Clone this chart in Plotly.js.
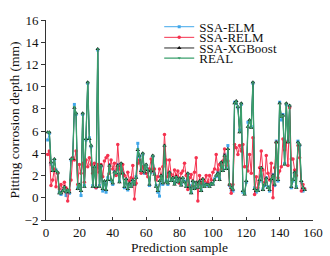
<!DOCTYPE html>
<html><head><meta charset="utf-8">
<script src="https://cdn.plot.ly/plotly-3.0.1.min.js"></script>
<style>html,body{margin:0;padding:0;background:#fff}#chart{width:330px;height:256px}</style>
</head><body><div id="chart"></div>
<script>
var seriesNames = ["SSA-ELM", "SSA-RELM", "SSA-XGBoost", "REAL"];
var xTickVals = [0, 20, 40, 60, 80, 100, 120, 140, 160];
var yTickVals = [-2, 0, 2, 4, 6, 8, 10, 12, 14, 16];

var real = [5.9,5.9,3.2,2.4,3.5,2.4,2.3,0.4,0.4,0.6,1.0,0.5,0.7,0.5,3.5,3.5,8.2,7.6,0.8,1.2,
0.6,7.6,1.0,5.3,10.4,5.3,4.7,1.0,2.8,1.0,13.4,1.0,2.9,0.8,1.5,0.7,1.6,2.9,1.6,1.3,
2.3,2.2,2.9,1.4,3.1,2.2,1.0,1.7,0.8,1.3,1.0,1.6,1.2,1.8,4.4,3.8,2.4,4.0,2.3,3.0,
2.5,1.2,2.4,3.8,2.1,1.0,0.6,1.5,2.0,1.3,4.7,1.4,1.3,2.3,1.5,1.8,1.2,1.9,1.4,1.75,
1.1,1.8,1.4,1.0,2.2,1.0,0.4,1.5,0.8,1.4,0.9,1.5,0.6,1.7,1.0,1.2,1.2,1.0,1.3,1.2,
1.6,2.0,2.2,1.6,3.2,2.4,3.8,2.6,4.4,1.2,0.9,0.75,8.5,8.7,8.2,5.9,8.5,0.6,0.3,1.5,
6.4,7.0,6.3,10.4,0.8,0.6,0.6,1.6,2.7,0.7,1.2,1.75,0.9,0.7,1.7,2.0,1.2,5.0,1.6,8.5,
7.3,7.4,3.0,8.5,5.0,8.3,1.0,1.6,2.3,0.9,5.0,4.8,1.5,0.9,0.7];

var elm = [5.2,5.8,3.0,2.6,3.4,2.5,2.2,0.5,0.3,0.7,0.9,0.2,0.6,0.4,3.4,3.6,8.4,7.5,0.9,1.0,
0.2,7.5,1.1,5.2,10.3,5.4,4.6,1.1,2.7,0.9,13.3,1.1,2.8,0.6,1.3,0.5,1.8,3.0,1.5,1.2,
2.4,2.1,3.0,1.5,3.0,2.3,0.9,1.6,0.7,1.2,1.1,1.5,1.3,1.9,4.9,3.7,2.5,3.9,2.2,2.9,
2.6,1.1,2.3,3.7,2.2,1.1,0.5,0.15,1.9,1.2,4.6,1.5,1.2,2.2,1.6,1.7,1.3,1.8,1.5,1.6,
1.2,1.7,1.5,1.1,2.1,1.1,0.5,1.4,0.9,1.3,1.0,1.4,0.7,1.6,1.1,1.3,1.1,1.1,1.2,1.3,
1.7,1.9,2.3,1.7,3.1,2.5,3.9,2.7,4.7,1.1,0.7,0.6,8.6,8.5,8.1,6.1,8.4,0.5,0.4,1.4,
6.8,6.9,6.4,10.3,0.9,0.5,0.7,1.5,2.6,0.8,1.1,1.8,1.0,0.6,1.6,2.1,1.1,5.1,1.5,8.6,
7.0,7.5,3.1,8.4,5.1,8.2,0.9,1.5,2.2,1.0,5.1,4.7,1.4,0.6,0.8];

var relm = [3.9,4.2,1.1,1.6,2.6,1.0,2.2,0.8,1.2,0.6,1.4,0.9,-0.3,0.7,1.6,3.6,3.4,4.2,1.2,3.0,
2.2,3.1,1.4,3.4,2.8,3.6,3.0,2.2,3.1,0.9,3.0,2.3,3.0,1.9,3.3,3.6,3.8,2.2,3.4,2.6,
3.1,2.0,4.8,2.6,2.2,3.0,2.0,1.6,2.3,1.5,1.8,2.9,-0.1,1.3,3.1,3.4,2.2,2.8,2.6,2.2,
1.9,2.6,3.5,2.4,2.6,1.6,1.9,2.6,1.8,2.8,5.7,3.4,1.9,3.4,2.1,1.8,2.5,2.0,2.4,1.3,
2.2,2.4,3.1,2.0,0.75,1.8,2.1,1.1,2.3,3.6,-0.3,2.0,1.3,1.7,1.5,2.0,1.4,2.0,1.6,2.3,
2.6,3.9,2.5,3.0,2.6,3.3,4.4,2.9,3.3,1.2,0.4,1.2,4.8,4.5,3.9,4.7,4.2,4.8,2.8,2.8,
2.4,3.9,2.2,5.4,0.3,1.9,0.9,2.7,4.2,2.5,1.4,3.8,2.2,1.6,3.1,0.0,2.7,5.0,1.8,2.4,
2.8,5.3,4.3,5.0,2.9,8.1,3.5,3.5,2.5,2.0,4.7,3.6,0.6,1.2,0.8];

var xgb = [5.9,5.9,3.2,2.4,3.5,2.4,2.3,0.4,0.4,0.6,1.0,0.5,0.7,0.5,3.5,3.5,8.1,7.6,0.8,1.2,
0.6,7.6,1.0,5.3,10.4,5.3,4.7,1.0,2.8,1.0,13.4,1.0,2.9,0.8,1.5,0.7,1.6,2.9,1.6,1.3,
2.3,2.2,2.9,1.4,3.1,2.2,1.0,1.7,0.8,1.3,1.0,1.6,1.2,1.8,4.3,3.8,2.4,4.0,2.3,3.0,
2.5,1.2,2.4,3.8,2.1,1.0,0.6,1.5,2.0,1.3,4.7,1.4,1.3,2.3,1.5,1.8,1.2,1.9,1.4,1.75,
1.1,1.8,1.4,1.0,2.2,1.0,0.4,1.5,0.8,1.4,0.9,1.5,0.6,1.7,1.0,1.2,1.2,1.0,1.3,1.2,
1.6,2.0,2.2,1.6,3.2,2.4,3.8,2.6,4.4,1.2,0.9,0.75,8.5,8.7,8.2,5.9,8.5,0.6,0.3,1.5,
6.4,7.0,6.3,10.4,0.8,0.6,0.6,1.6,2.7,0.7,1.2,1.75,0.9,0.7,1.7,2.0,1.2,5.0,1.6,8.5,
7.3,7.4,3.0,8.5,5.0,8.3,1.0,1.6,2.3,0.9,5.0,4.8,1.5,0.9,0.7];

var samples = real.map(function(_, i){ return i + 1; });

var FONT = "Liberation Serif, Times New Roman, serif";
function tr(y, name, color, sym, lw, ms, leg){
  return {x: samples, y: y, name: name, type: "scatter", mode: "lines+markers",
    line: {color: color, width: lw}, marker: {symbol: sym, size: ms, color: color},
    legend: leg};
}
var data = [
  tr(elm, seriesNames[0], "#41a7ea", "square", 1.0, 3, "legend"),
  tr(relm, seriesNames[1], "#f5324f", "circle", 1.0, 3.5, "legend2"),
  tr(xgb, seriesNames[2], "#111111", "triangle-up", 0.9, 4, "legend3"),
  tr(real, seriesNames[3], "#3a9f6c", "triangle-down", 1.3, 3, "legend4")
];
function leg(py){
  return {x: 0.424, y: 1 - (py - 13) / 207, xanchor: "left", yanchor: "middle",
    bgcolor: "rgba(0,0,0,0)", borderwidth: 0, font: {family: FONT, size: 13, color: "#111"},
    itemwidth: 30, tracegroupgap: 0};
}
var layout = {
  width: 330, height: 256,
  margin: {l: 46, r: 17, t: 13, b: 36},
  paper_bgcolor: "#fff", plot_bgcolor: "#fff",
  font: {family: FONT, size: 13, color: "#111"},
  showlegend: true,
  legend: leg(20), legend2: leg(31), legend3: leg(42), legend4: leg(52.5),
  xaxis: {range: [0, 160], tickvals: xTickVals, ticks: "inside", ticklen: 3, tickcolor: "#333",
    showline: true, linecolor: "#333", linewidth: 1, showgrid: false, zeroline: false,
    title: {text: "Prediction sample", font: {family: FONT, size: 13.5}, standoff: 2},
    tickfont: {family: FONT, size: 13}},
  yaxis: {range: [-2, 16], tickvals: yTickVals, ticks: "outside", ticklen: 4, tickcolor: "#333",
    showline: true, linecolor: "#333", linewidth: 1, showgrid: false, zeroline: false,
    title: {text: "Pitting corrosion depth (mm)", font: {family: FONT, size: 13.5}, standoff: 1},
    tickfont: {family: FONT, size: 13}}
};
Plotly.newPlot("chart", data, layout, {displayModeBar: false, staticPlot: true});
</script></body></html>
